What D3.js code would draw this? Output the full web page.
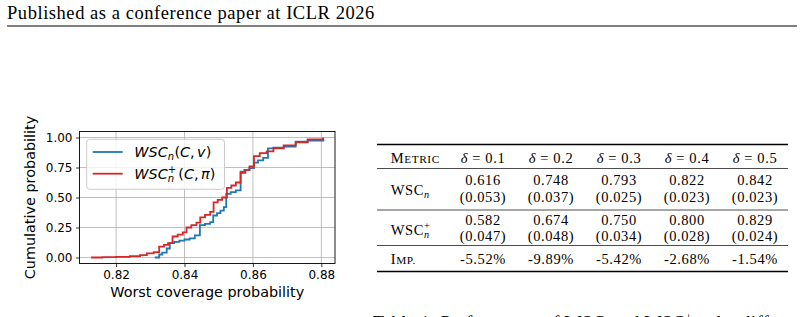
<!DOCTYPE html>
<html>
<head>
<meta charset="utf-8">
<script src="https://cdn.jsdelivr.net/npm/d3@7"></script>
<style>
  body { margin: 0; background: #fff; }
  svg { display: block; }
</style>
</head>
<body>
<svg id="page" width="804" height="317"></svg>
<script>
// ---- data ----
const xTicks = [0.82, 0.84, 0.86, 0.88];
const yTicks = [0, 0.25, 0.5, 0.75, 1.0];

// WSC_n(C, v) empirical cdf breakpoints
const wscX = [0.8313, 0.8326, 0.8335, 0.8348, 0.8357, 0.8370, 0.8385, 0.8400, 0.8415, 0.8430,
  0.8445, 0.8460, 0.8475, 0.8484, 0.8495, 0.8505, 0.8515, 0.8522, 0.8535, 0.8550,
  0.8564, 0.8575, 0.8590, 0.8603, 0.8615, 0.8630, 0.8644, 0.8660, 0.8690, 0.8725,
  0.8760, 0.8806];
const wscY = [0.000, 0.025, 0.040, 0.075, 0.120, 0.130, 0.140, 0.150, 0.160, 0.185,
  0.270, 0.280, 0.295, 0.350, 0.370, 0.390, 0.420, 0.530, 0.545, 0.560,
  0.715, 0.730, 0.745, 0.790, 0.810, 0.830, 0.910, 0.915, 0.925, 0.965,
  0.975, 0.990];

// WSC_n^+(C, pi) empirical cdf breakpoints
const wscPlusX = [0.8127, 0.8160, 0.8200, 0.8240, 0.8270, 0.8290, 0.8310, 0.8326, 0.8340, 0.8352,
  0.8365, 0.8380, 0.8395, 0.8406, 0.8420, 0.8435, 0.8446, 0.8460, 0.8475, 0.8485,
  0.8497, 0.8510, 0.8524, 0.8537, 0.8550, 0.8564, 0.8578, 0.8590, 0.8603, 0.8620,
  0.8640, 0.8660, 0.8690, 0.8725, 0.8760, 0.8805];
const wscPlusY = [0.000, 0.003, 0.006, 0.012, 0.020, 0.035, 0.045, 0.090, 0.105, 0.120,
  0.175, 0.190, 0.210, 0.250, 0.270, 0.290, 0.335, 0.355, 0.380, 0.460,
  0.480, 0.500, 0.580, 0.600, 0.625, 0.705, 0.730, 0.760, 0.845, 0.870,
  0.885, 0.910, 0.935, 0.960, 0.985, 1.000];

// table
const deltas = [0.1, 0.2, 0.3, 0.4, 0.5];
const wscMean = [0.616, 0.748, 0.793, 0.822, 0.842];
const wscStd = [0.053, 0.037, 0.025, 0.023, 0.023];
const wscPlusMean = [0.582, 0.674, 0.750, 0.800, 0.829];
const wscPlusStd = [0.047, 0.048, 0.034, 0.028, 0.024];
const improvement = [-5.52, -9.89, -5.42, -2.68, -1.54];

const svg = d3.select("#page");
const serif = "'Liberation Serif', 'Times New Roman', serif";
const sans = "'DejaVu Sans', sans-serif";

// write a run of text pieces (for the little bits of math)
function pieces(g, x, y, parts, size, family, spacing) {
  let cx = x, prevStart = x;
  parts.forEach(p => {
    const start = p.stack ? prevStart : cx + (p.gap || 0) * size;
    const t = g.append("text")
      .attr("x", start)
      .attr("y", y + (p.dy || 0) * size)
      .attr("font-family", family)
      .attr("font-size", size * (p.scale || 1))
      .attr("font-style", p.it ? "italic" : "normal")
      .attr("letter-spacing", spacing || 0)
      .text(p.t);
    const w = t.node().getComputedTextLength();
    cx = Math.max(cx, start + w);
    prevStart = start;
  });
  return cx;
}

// ---- page header ----
svg.append("text")
  .attr("x", 7).attr("y", 18.5)
  .attr("font-family", serif).attr("font-size", 18.5)
  .attr("letter-spacing", 0.55)
  .text("Published as a conference paper at ICLR 2026");
svg.append("line")
  .attr("x1", 7).attr("x2", 797).attr("y1", 26).attr("y2", 26)
  .attr("stroke", "#000").attr("stroke-width", 1);

// ---- cdf plot ----
const allX = wscX.concat(wscPlusX);
const xMin = d3.min(allX), xMax = d3.max(allX), pad = (xMax - xMin) * 0.05;
const x = d3.scaleLinear().domain([xMin - pad, xMax + pad]).range([79.5, 335]);
const y = d3.scaleLinear().domain([-0.05, 1.05]).range([263.5, 131.5]);

const plot = svg.append("g");

// grid
plot.append("g").selectAll("line").data(xTicks).join("line")
  .attr("x1", d => x(d)).attr("x2", d => x(d))
  .attr("y1", y.range()[0]).attr("y2", y.range()[1])
  .attr("stroke", "#b0b0b0").attr("stroke-width", 0.8);
plot.append("g").selectAll("line").data(yTicks).join("line")
  .attr("x1", x.range()[0]).attr("x2", x.range()[1])
  .attr("y1", d => y(d)).attr("y2", d => y(d))
  .attr("stroke", "#b0b0b0").attr("stroke-width", 0.8);

const step = d3.line().x(d => x(d[0])).y(d => y(d[1])).curve(d3.curveStepAfter);
plot.append("path")
  .datum(d3.zip(wscX, wscY))
  .attr("d", step).attr("fill", "none")
  .attr("stroke", "#1f77b4").attr("stroke-width", 1.8);
plot.append("path")
  .datum(d3.zip(wscPlusX, wscPlusY))
  .attr("d", step).attr("fill", "none")
  .attr("stroke", "#d62728").attr("stroke-width", 1.8);

// axes
const xAxis = plot.append("g")
  .attr("transform", `translate(0,${y.range()[0]})`)
  .call(d3.axisBottom(x).tickValues(xTicks).tickFormat(d3.format(".2f")).tickSize(3.5).tickPadding(3.5));
const yAxis = plot.append("g")
  .attr("transform", `translate(${x.range()[0]},0)`)
  .call(d3.axisLeft(y).tickValues(yTicks).tickFormat(d3.format(".2f")).tickSize(3.5).tickPadding(3.5));
[xAxis, yAxis].forEach(a => {
  a.select(".domain").remove();
  a.selectAll("text").attr("font-family", sans).attr("font-size", 12).attr("fill", "#000");
  a.selectAll("line").attr("stroke", "#000").attr("stroke-width", 0.8);
});
plot.append("rect")
  .attr("x", x.range()[0]).attr("y", y.range()[1])
  .attr("width", x.range()[1] - x.range()[0]).attr("height", y.range()[0] - y.range()[1])
  .attr("fill", "none").attr("stroke", "#000").attr("stroke-width", 0.9);

plot.append("text")
  .attr("x", (x.range()[0] + x.range()[1]) / 2).attr("y", 296.5)
  .attr("text-anchor", "middle")
  .attr("font-family", sans).attr("font-size", 14.4)
  .text("Worst coverage probability");
plot.append("text")
  .attr("transform", `translate(35,${(y.range()[0] + y.range()[1]) / 2}) rotate(-90)`)
  .attr("text-anchor", "middle")
  .attr("font-family", sans).attr("font-size", 14.4)
  .text("Cumulative probability");

// legend
const legend = plot.append("g");
legend.append("rect")
  .attr("x", 86.7).attr("y", 139.3).attr("width", 137.8).attr("height", 50)
  .attr("rx", 3).attr("fill", "#fff").attr("fill-opacity", 0.8)
  .attr("stroke", "#cccccc").attr("stroke-width", 1);
legend.append("line").attr("x1", 92.7).attr("x2", 122.7).attr("y1", 152).attr("y2", 152)
  .attr("stroke", "#1f77b4").attr("stroke-width", 1.8);
legend.append("line").attr("x1", 92.7).attr("x2", 122.7).attr("y1", 173.7).attr("y2", 173.7)
  .attr("stroke", "#d62728").attr("stroke-width", 1.8);
pieces(legend, 134.3, 157.3, [
  { t: "WSC", it: true },
  { t: "n", it: true, scale: 0.7, dy: 0.22 },
  { t: "(", gap: 0.02 }, { t: "C", it: true }, { t: ",", }, { t: "v", it: true, gap: 0.17 }, { t: ")" }
], 14.4, sans);
pieces(legend, 134.3, 179, [
  { t: "WSC", it: true },
  { t: "n", it: true, scale: 0.7, dy: 0.22 },
  { t: "+", scale: 0.7, dy: -0.4, stack: true, gap: 0 },
  { t: "(", gap: 0.15 }, { t: "C", it: true }, { t: "," }, { t: "π", it: true, gap: 0.17 }, { t: ")" }
], 14.4, sans);

// ---- table ----
const table = svg.append("g").attr("font-family", serif).attr("letter-spacing", 0.6);
const col = d3.scaleBand().domain(deltas).range([449, 789]);
const cx = d => col(d) + col.bandwidth() / 2;
const tSize = 14.5;
const f3 = d3.format(".3f");

[[144.5, 1.3], [168.5, 0.7], [210, 0.7], [245.5, 0.7], [271.5, 1.3]].forEach(([yy, w]) => {
  table.append("line").attr("x1", 377).attr("x2", 788).attr("y1", yy).attr("y2", yy)
    .attr("stroke", "#000").attr("stroke-width", w);
});

// small caps labels
function smallCaps(g, x0, y0, first, rest) {
  const t = g.append("text").attr("x", x0).attr("y", y0).attr("font-size", tSize);
  t.append("tspan").text(first);
  t.append("tspan").attr("font-size", tSize * 0.78).text(rest);
}
smallCaps(table, 390.7, 163, "M", "ETRIC");
smallCaps(table, 390.7, 263.5, "I", "MP.");

deltas.forEach(d => {
  const t = table.append("text").attr("x", cx(d)).attr("y", 163)
    .attr("text-anchor", "middle").attr("font-size", tSize);
  t.append("tspan").attr("font-style", "italic").text("δ");
  t.append("tspan").text(" = " + d.toFixed(1));
});

pieces(table, 390.7, 195, [
  { t: "WSC" }, { t: "n", it: true, scale: 0.7, dy: 0.2 }
], tSize, serif, 0.6);
pieces(table, 390.7, 235, [
  { t: "WSC" }, { t: "n", it: true, scale: 0.7, dy: 0.2 },
  { t: "+", scale: 0.7, dy: -0.38, stack: true }
], tSize, serif, 0.6);

function cellRow(values, yy, fmt) {
  table.append("g").selectAll("text").data(d3.zip(deltas, values)).join("text")
    .attr("x", d => cx(d[0])).attr("y", yy)
    .attr("text-anchor", "middle").attr("font-size", tSize)
    .text(d => fmt(d[1]));
}
cellRow(wscMean, 185, f3);
cellRow(wscStd, 201.5, v => "(" + f3(v) + ")");
cellRow(wscPlusMean, 225, f3);
cellRow(wscPlusStd, 241, v => "(" + f3(v) + ")");
cellRow(improvement, 263.5, v => v.toFixed(2) + "%");

// caption, cut off by the bottom of the page
const cap = svg.append("g");
pieces(cap, 373, 329, [
  { t: "Table 1: Performance of WSC" }, { t: "n", it: true, scale: 0.7, dy: 0.2 },
  { t: " and WSC", gap: 0 }, { t: "n", it: true, scale: 0.7, dy: 0.2 },
  { t: "+", scale: 0.7, dy: -0.38, stack: true }, { t: " under different δ." }
], 18, serif, 0.55);
</script>
</body>
</html>
